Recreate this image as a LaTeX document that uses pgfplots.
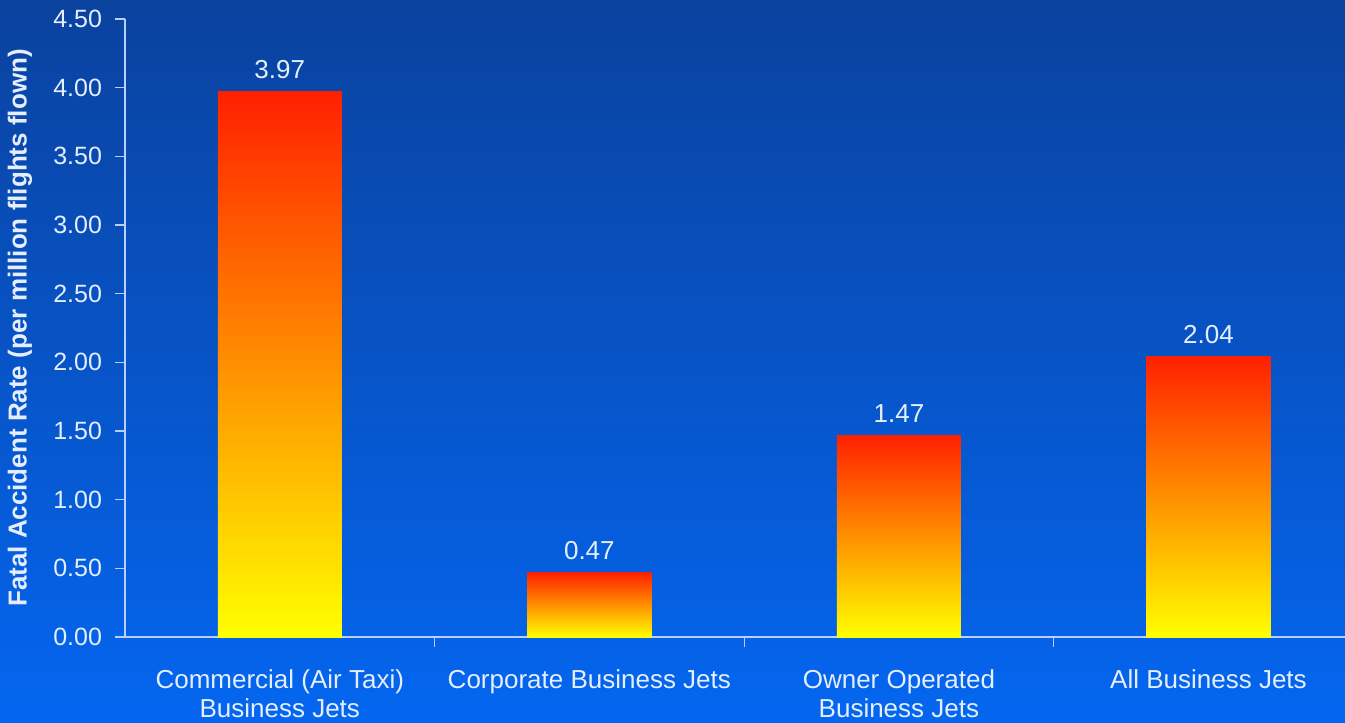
\documentclass[border=0pt]{standalone}
\usepackage{pgfplots}
\pgfplotsset{compat=1.18}
\usepackage{fontspec}
\setmainfont{Liberation Sans}
\definecolor{bgtop}{HTML}{0A429E}
\definecolor{bgbot}{HTML}{0466F0}
\definecolor{axcol}{HTML}{B8D0FF}
\definecolor{txt}{HTML}{E4EEFF}
\definecolor{bartop}{HTML}{FF2000}
\definecolor{barmid}{HTML}{FF9C00}
\definecolor{barbot}{HTML}{FFFF00}
\begin{document}
\begin{tikzpicture}
\shade[top color=bgtop, bottom color=bgbot] (-62.5pt,-43pt) rectangle (610pt,318.5pt);
\begin{axis}[
  at={(0pt,0pt)}, anchor=south west, scale only axis,
  width=610pt, height=309pt,
  xmin=-0.5, xmax=3.441, ymin=0, ymax=4.5,
  axis x line*=bottom, axis y line*=left,
  axis line style={axcol, line width=0.6pt, -},
  tick align=outside, major tick length=5pt,
  ytick={0,0.5,1,1.5,2,2.5,3,3.5,4,4.5},
  ytick style={axcol, line width=0.6pt},
  yticklabel style={font=\fontsize{12.5}{14}\selectfont, text=txt, xshift=-3pt},
  xtick={0,1,2,3},
  xticklabels={{Commercial (Air Taxi)\\Business Jets},{Corporate Business Jets},{Owner Operated\\Business Jets},{All Business Jets}},
  xtick style={draw=none},
  xticklabel style={font=\fontsize{13}{14.5}\selectfont, text=txt, align=center, yshift=-8pt},
  extra x ticks={0.5,1.5,2.5},
  extra x tick labels={},
  extra x tick style={xtick style={draw=axcol, line width=0.6pt}},
  ylabel={\bfseries Fatal Accident Rate (per million flights flown)},
  ylabel style={at={(axis description cs:-0.0861,0.5)}, anchor=center, font=\fontsize{13}{15}\selectfont, text=txt},
  ybar, bar width=62pt, bar shift=0pt,
  nodes near coords,
  nodes near coords style={font=\fontsize{13}{15}\selectfont, text=txt, yshift=3pt},
  /pgf/number format/fixed,
  /pgf/number format/fixed zerofill,
  /pgf/number format/precision=2,
  /pgf/number format/assume math mode=true,
]
\addplot[draw=none, top color=bartop, middle color=barmid, bottom color=barbot] coordinates {(0,3.97)};
\addplot[draw=none, top color=bartop, middle color=barmid, bottom color=barbot] coordinates {(1,0.47)};
\addplot[draw=none, top color=bartop, middle color=barmid, bottom color=barbot] coordinates {(2,1.47)};
\addplot[draw=none, top color=bartop, middle color=barmid, bottom color=barbot] coordinates {(3,2.04)};
\end{axis}
\pgfresetboundingbox
\path[use as bounding box] (-62.5pt,-43pt) rectangle (610pt,318.5pt);
\end{tikzpicture}
\end{document}
